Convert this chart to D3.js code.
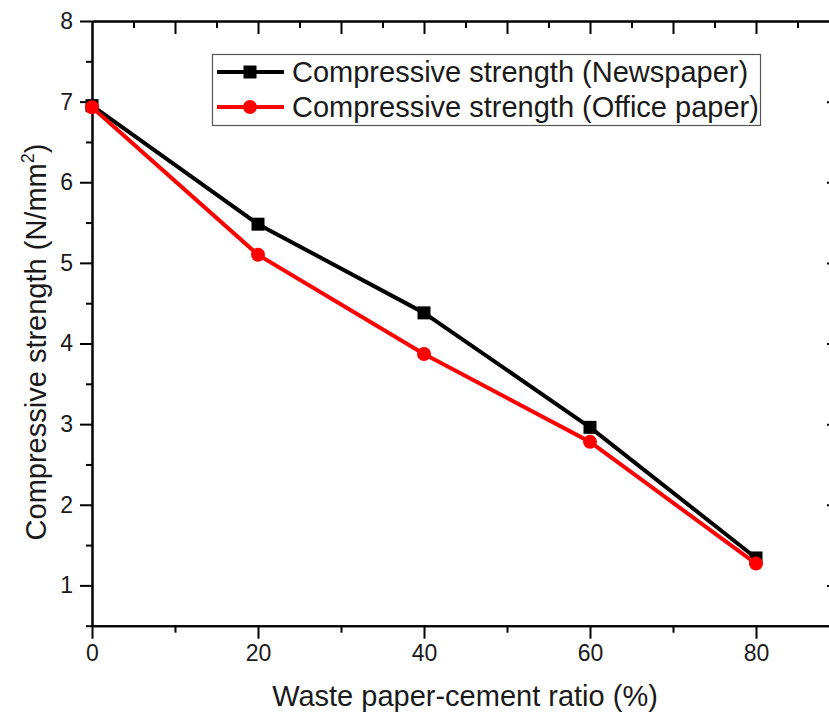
<!DOCTYPE html>
<html>
  <head>
    <meta charset="utf-8">
    <title></title>
    <script src="https://cdn.jsdelivr.net/npm/d3@7/dist/d3.min.js"></script>
    <style>
    body {margin:0; background:#fff;}
    text {font-family: "Liberation Sans", Arial, sans-serif;}
    </style>
  </head>
  <body>
    <svg id="svg1" width="829" height="715"></svg>
    <script>
    // data
    var ratios = [0, 20, 40, 60, 80];
    var newspaper = [6.95, 5.48, 4.38, 2.96, 1.34];
    var officePaper = [6.93, 5.10, 3.87, 2.78, 1.27];
    var seriesNames = ['Compressive strength (Newspaper)', 'Compressive strength (Office paper)'];
    var xTicks = [0, 20, 40, 60, 80];
    var yTicks = [1, 2, 3, 4, 5, 6, 7, 8];

    var svg = d3.select('#svg1');
    var x = d3.scaleLinear().domain([0, 90]).range([92, 839]);
    var y = d3.scaleLinear().domain([0.5, 8]).range([625.7, 21]);

    function styleAxis(g) {
      g.attr('font-size', 23).attr('font-family', '"Liberation Sans", Arial, sans-serif');
      g.selectAll('path.domain').attr('stroke', '#000').attr('stroke-width', 2);
      g.selectAll('.tick line').attr('stroke', '#000').attr('stroke-width', 2);
      g.selectAll('.tick text').attr('fill', '#1a1a1a');
    }

    // minor ticks first
    svg.append('g').attr('transform', 'translate(0,625.7)')
      .call(d3.axisBottom(x).tickValues([10, 30, 50, 70]).tickSize(7).tickSizeOuter(0).tickFormat(''))
      .call(styleAxis);
    svg.append('g').attr('transform', 'translate(0,625.7)')
      .call(d3.axisBottom(x).tickValues(xTicks).tickSize(13).tickSizeOuter(0).tickPadding(6))
      .call(styleAxis);

    svg.append('g').attr('transform', 'translate(0,21)')
      .call(d3.axisTop(x).tickValues(d3.range(5, 90, 10)).tickSize(-7).tickSizeOuter(0).tickFormat(''))
      .call(styleAxis);
    svg.append('g').attr('transform', 'translate(0,21)')
      .call(d3.axisTop(x).tickValues(d3.range(10, 90, 10)).tickSize(-13).tickSizeOuter(0).tickFormat(''))
      .call(styleAxis);

    svg.append('g').attr('transform', 'translate(92,0)')
      .call(d3.axisLeft(y).tickValues(d3.range(0.5, 8, 1)).tickSize(6).tickSizeOuter(0).tickFormat(''))
      .call(styleAxis);
    svg.append('g').attr('transform', 'translate(92,0)')
      .call(d3.axisLeft(y).tickValues(yTicks).tickSize(12).tickSizeOuter(0).tickPadding(7).tickFormat(d3.format('d')))
      .call(styleAxis);

    svg.append('g').attr('transform', 'translate(839,0)')
      .call(d3.axisRight(y).tickValues(d3.range(0.5, 8, 1)).tickSize(-6).tickSizeOuter(0).tickFormat(''))
      .call(styleAxis);
    svg.append('g').attr('transform', 'translate(839,0)')
      .call(d3.axisRight(y).tickValues(d3.range(1, 8, 1)).tickSize(-12).tickSizeOuter(0).tickFormat(''))
      .call(styleAxis);

    // axis titles
    svg.append('text').attr('x', 465).attr('y', 706).attr('text-anchor', 'middle')
      .style('font-size', '29px').attr('fill', '#1a1a1a').text('Waste paper-cement ratio (%)');

    var yt = svg.append('text').attr('transform', 'translate(46,342) rotate(-90)')
      .attr('text-anchor', 'middle').style('font-size', '29px').attr('fill', '#1a1a1a');
    yt.append('tspan').text('Compressive strength (N/mm');
    yt.append('tspan').attr('dy', -12).style('font-size', '18px').text('2');
    yt.append('tspan').attr('dy', 12).text(')');

    // series
    var line = d3.line().x(function(d, i){ return x(ratios[i]); }).y(function(d){ return y(d); });
    var series = [
      {name: seriesNames[0], values: newspaper, color: '#000', shape: 'square'},
      {name: seriesNames[1], values: officePaper, color: '#f00', shape: 'circle'}
    ];

    function drawMarker(g, s, cx, cy) {
      if (s.shape == 'square') {
        g.append('rect').attr('x', cx - 6.5).attr('y', cy - 6.5).attr('width', 13).attr('height', 13).attr('fill', s.color);
      } else {
        g.append('circle').attr('cx', cx).attr('cy', cy).attr('r', 7).attr('fill', s.color);
      }
    }

    series.forEach(function(s) {
      svg.append('path').attr('d', line(s.values)).attr('fill', 'none')
        .attr('stroke', s.color).attr('stroke-width', 4).attr('stroke-linejoin', 'round');
      var g = svg.append('g');
      s.values.forEach(function(v, i){ drawMarker(g, s, x(ratios[i]), y(v)); });
    });

    // legend
    var lg = svg.append('g');
    lg.append('rect').attr('x', 212.5).attr('y', 54.5).attr('width', 548).attr('height', 71)
      .attr('fill', '#fff').attr('stroke', '#555').attr('stroke-width', 1.2);
    series.forEach(function(s, i) {
      var cy = 72 + i * 35;
      lg.append('line').attr('x1', 217).attr('x2', 284).attr('y1', cy).attr('y2', cy)
        .attr('stroke', s.color).attr('stroke-width', 4);
      drawMarker(lg, s, 250, cy);
      lg.append('text').attr('x', 292).attr('y', cy + 10).style('font-size', '29px')
        .attr('fill', '#1a1a1a').text(s.name);
    });
    </script>
  </body>
</html>
